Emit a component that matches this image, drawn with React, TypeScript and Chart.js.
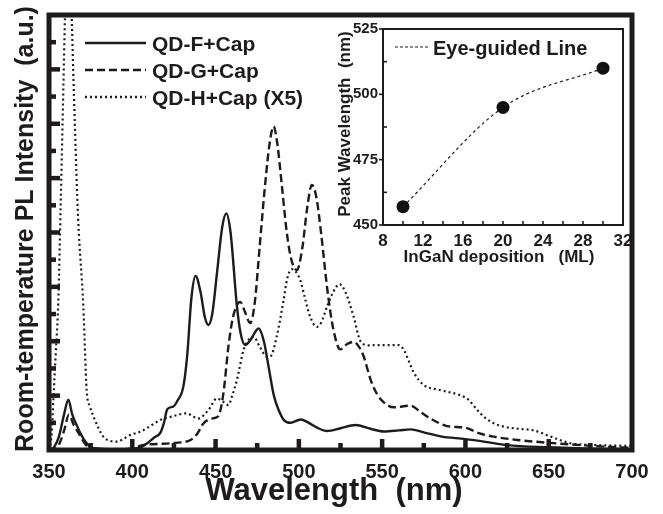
import React, { useEffect, useRef } from "react";
import { Chart, registerables } from "chart.js";

Chart.register(...registerables);

const FONT = "'Liberation Sans', Arial, Helvetica, sans-serif";
const INK = "#1d1b1c";

// ---------- main chart data ----------
const wlF = [350, 353, 356, 359, 361.6, 364, 366.6, 369, 372, 375, 380, 390, 400, 405, 409, 413, 417, 419, 421, 424.7, 427, 430.7, 433, 435.5, 438, 441, 443.5, 445.7, 448, 451, 454, 456.4, 459, 462.8, 465, 467.8, 471, 475.8, 479, 482, 485, 488, 491, 495, 501, 506, 511, 517, 525, 534, 543, 551, 560, 567, 575, 585, 600, 612, 625, 650, 675, 700];
const intF = [0.0, 0.1, 0.5, 1.3, 1.85, 1.3, 0.92, 0.6, 0.3, 0.1, 0.05, 0.02, 0.05, 0.1, 0.25, 0.45, 0.65, 1.0, 1.5, 1.6, 1.8, 2.35, 3.5, 5.6, 6.4, 5.8, 4.9, 4.6, 5.0, 6.6, 8.2, 8.7, 8.0, 5.3, 4.3, 3.86, 4.05, 4.47, 4.0, 3.0, 2.0, 1.45, 1.1, 1.0, 1.12, 1.0, 0.82, 0.7, 0.8, 0.92, 0.78, 0.68, 0.72, 0.76, 0.65, 0.5, 0.4, 0.3, 0.18, 0.1, 0.05, 0.03];

const wlG = [350, 355, 359, 362, 365, 368, 372, 378, 390, 400, 406, 415, 425, 435, 439, 442.7, 448.8, 451.7, 454.7, 457.7, 460.5, 464.8, 467.5, 470.8, 473.5, 476.5, 479.8, 482.5, 484.8, 487, 490, 492.8, 495.5, 498.8, 502, 505, 507.8, 510.5, 513.5, 516.9, 520.5, 524.9, 529, 533, 536, 539, 543, 547, 551, 557, 567, 573, 579, 589, 600, 608, 617, 631, 649, 669, 685, 700];
const intG = [0.0, 0.1, 0.7, 1.3, 0.9, 0.6, 0.2, 0.05, 0.02, 0.05, 0.18, 0.22, 0.26, 0.37, 0.6, 0.98, 1.17, 1.25, 2.08, 3.8, 4.9, 5.45, 5.1, 4.67, 5.4, 7.5, 9.8, 11.3, 11.9, 11.3, 9.6, 7.97, 7.0, 6.62, 7.4, 8.9, 9.75, 9.3, 7.9, 6.0, 4.5, 3.7, 3.9, 3.98, 3.8, 3.43, 2.6, 2.05, 1.75, 1.57, 1.63, 1.4, 1.16, 0.88, 0.82, 0.62, 0.49, 0.37, 0.27, 0.18, 0.12, 0.08];

const wlH = [350, 351.6, 352.6, 354, 355.6, 357, 358.5, 359.6, 361, 362.5, 363.6, 365.5, 367.5, 370.6, 372.6, 374.6, 377.6, 382.6, 386, 390.7, 394, 398.7, 404.7, 410, 416.7, 423.7, 432.7, 436, 439.7, 445.7, 450.8, 454, 457.7, 460, 462.8, 466.8, 469.8, 472.8, 476.5, 480.8, 483, 486.8, 490.8, 493, 495.8, 500.8, 504, 506.8, 510.8, 513.5, 516.9, 520.5, 524.5, 528, 532.9, 537, 542, 549, 560, 563, 569, 575, 585, 597, 602, 606, 611, 617, 623, 632, 641, 651, 663, 679, 700];
const intH = [0.0, 0.6, 1.84, 3.5, 5.5, 9.0, 13, 16, 19.5, 18.5, 16, 12, 8.5, 5.3, 2.2, 1.6, 1.1, 0.49, 0.35, 0.31, 0.38, 0.55, 0.67, 0.85, 1.1, 1.23, 1.35, 1.25, 1.16, 1.47, 1.9, 1.8, 1.65, 2.0, 2.57, 3.68, 4.05, 4.17, 3.8, 3.43, 3.45, 4.2, 5.5, 6.3, 6.65, 6.25, 5.5, 4.9, 4.53, 4.7, 5.27, 5.8, 6.1, 5.8, 4.9, 4.0, 3.85, 3.86, 3.86, 3.68, 2.85, 2.39, 2.2, 2.01, 1.84, 1.55, 1.23, 0.98, 0.86, 0.78, 0.72, 0.5, 0.25, 0.18, 0.15];

const seriesLabels = ["QD-F+Cap", "QD-G+Cap", "QD-H+Cap (X5)"];
const xTickValues = [350, 400, 450, 500, 550, 600, 650, 700];
const X_MIN = 350;
const X_MAX = 700;
const X_MINOR = 25;
const Y_MIN = 0;
const Y_MAX = 16;

// ---------- inset data ----------
const depositionML = [10, 20, 30];
const peakWavelength = [457, 495, 510];
const insetXTicks = [8, 12, 16, 20, 24, 28, 32];
const insetYTicks = [450, 475, 500, 525];
const insetLegend = "Eye-guided Line";

const pts = (xs: number[], ys: number[]) => xs.map((x, i) => ({ x, y: ys[i] }));

const mainDecor = {
  id: "mainDecor",
  afterDatasetsDraw(chart: any) {
    const { ctx, chartArea: a } = chart;
    const x = chart.scales.x;
    const y = chart.scales.y;
    ctx.save();
    ctx.strokeStyle = INK;
    ctx.fillStyle = INK;
    ctx.lineCap = "butt";
    ctx.setLineDash([]);
    // inward ticks
    ctx.lineWidth = 4.5;
    for (let v = X_MIN + X_MINOR; v < X_MAX; v += X_MINOR) {
      const px = x.getPixelForValue(v);
      const len = v % 50 === 0 ? 11 : 7;
      ctx.beginPath();
      ctx.moveTo(px, a.bottom);
      ctx.lineTo(px, a.bottom - len);
      ctx.stroke();
    }
    for (let v = Y_MIN + 1; v < Y_MAX; v++) {
      const py = y.getPixelForValue(v);
      const len = v % 2 === 0 ? 11 : 7;
      ctx.beginPath();
      ctx.moveTo(a.left, py);
      ctx.lineTo(a.left + len, py);
      ctx.stroke();
    }
    // frame
    ctx.lineWidth = 5;
    ctx.strokeRect(a.left, a.top, a.right - a.left, a.bottom - a.top);

    // axis titles
    ctx.font = `bold 31px ${FONT}`;
    ctx.textAlign = "center";
    ctx.textBaseline = "alphabetic";
    ctx.fillText("Wavelength  (nm)", 334, 500);
    ctx.save();
    ctx.translate(33, 229);
    ctx.rotate(-Math.PI / 2);
    ctx.font = `bold 25px ${FONT}`;
    ctx.fillText("Room-temperature PL Intensity  (a.u.)", 0, 0);
    ctx.restore();

    // legend
    const rows = [43, 70, 97];
    chart.data.datasets.forEach((ds: any, i: number) => {
      ctx.beginPath();
      ctx.lineWidth = 2.4;
      ctx.setLineDash(ds.borderDash || []);
      ctx.moveTo(85, rows[i]);
      ctx.lineTo(146, rows[i]);
      ctx.stroke();
      ctx.setLineDash([]);
      ctx.font = `bold 21px ${FONT}`;
      ctx.textAlign = "left";
      ctx.textBaseline = "middle";
      ctx.fillText(ds.label, 152, rows[i] + 2);
    });
    ctx.restore();
  },
};

const insetDecor = {
  id: "insetDecor",
  afterDatasetsDraw(chart: any) {
    const { ctx, chartArea: a } = chart;
    const x = chart.scales.x;
    const y = chart.scales.y;
    ctx.save();
    ctx.strokeStyle = INK;
    ctx.fillStyle = INK;
    ctx.setLineDash([]);
    ctx.lineWidth = 1.6;
    for (let v = 10; v < 32; v += 2) {
      const px = x.getPixelForValue(v);
      ctx.beginPath();
      ctx.moveTo(px, a.bottom);
      ctx.lineTo(px, a.bottom - 4);
      ctx.stroke();
    }
    for (let v = 450; v <= 525; v += 12.5) {
      const py = y.getPixelForValue(v);
      const major = v % 25 === 0;
      ctx.beginPath();
      if (major) {
        ctx.moveTo(a.left - 4, py);
        ctx.lineTo(a.left, py);
      } else {
        ctx.moveTo(a.left, py);
        ctx.lineTo(a.left + 4, py);
      }
      ctx.stroke();
    }
    ctx.lineWidth = 2;
    ctx.strokeRect(a.left, a.top, a.right - a.left, a.bottom - a.top);

    // titles
    ctx.textAlign = "center";
    ctx.textBaseline = "alphabetic";
    ctx.font = `bold 17px ${FONT}`;
    ctx.fillText("InGaN deposition   (ML)", 166, 244);
    ctx.save();
    ctx.translate(17, 106);
    ctx.rotate(-Math.PI / 2);
    ctx.font = `bold 17px ${FONT}`;
    ctx.fillText("Peak Wavelength  (nm)", 0, 0);
    ctx.restore();

    // legend
    ctx.beginPath();
    ctx.lineWidth = 1.2;
    ctx.setLineDash([3, 2]);
    ctx.moveTo(62, 29);
    ctx.lineTo(95, 29);
    ctx.stroke();
    ctx.setLineDash([]);
    ctx.font = `bold 20px ${FONT}`;
    ctx.textAlign = "left";
    ctx.textBaseline = "middle";
    ctx.fillText(insetLegend, 100, 31);
    ctx.restore();
  },
};

export default function App() {
  const mainRef = useRef<HTMLCanvasElement | null>(null);
  const insetRef = useRef<HTMLCanvasElement | null>(null);

  useEffect(() => {
    const lineBase = {
      borderColor: INK,
      borderWidth: 2.4,
      pointRadius: 0,
      fill: false,
      cubicInterpolationMode: "monotone" as const,
      borderCapStyle: "butt" as const,
    };
    const main = new Chart(mainRef.current!, {
      type: "line",
      data: {
        datasets: [
          { ...lineBase, label: seriesLabels[0], data: pts(wlF, intF), borderDash: [] },
          { ...lineBase, label: seriesLabels[1], data: pts(wlG, intG), borderDash: [8, 4] },
          { ...lineBase, label: seriesLabels[2], data: pts(wlH, intH), borderDash: [2, 3], borderWidth: 2.2 },
        ],
      },
      options: {
        animation: false,
        responsive: false,
        maintainAspectRatio: false,
        layout: { padding: { left: 0, top: 15, right: 31, bottom: 0 } },
        plugins: { legend: { display: false }, tooltip: { enabled: false } },
        scales: {
          x: {
            type: "linear",
            min: X_MIN,
            max: X_MAX,
            afterBuildTicks: (s: any) => {
              s.ticks = xTickValues.map((v) => ({ value: v }));
            },
            ticks: {
              color: INK,
              font: { family: FONT, size: 20, weight: "bold" },
              padding: 10,
              maxRotation: 0,
              autoSkip: false,
            },
            grid: { display: false, drawTicks: false },
            border: { display: false },
            afterFit: (s: any) => {
              s.height = 64;
              s.paddingLeft = 0;
              s.paddingRight = 0;
            },
          },
          y: {
            type: "linear",
            min: Y_MIN,
            max: Y_MAX,
            ticks: { display: false },
            grid: { display: false, drawTicks: false },
            border: { display: false },
            afterFit: (s: any) => {
              s.width = 49;
            },
          },
        },
      },
      plugins: [mainDecor],
    });

    const inset = new Chart(insetRef.current!, {
      type: "line",
      data: {
        datasets: [
          {
            label: insetLegend,
            data: pts(depositionML, peakWavelength),
            borderColor: INK,
            borderWidth: 1.2,
            borderDash: [3, 3],
            pointRadius: 0,
            cubicInterpolationMode: "monotone",
            fill: false,
          },
          {
            type: "scatter",
            label: "points",
            data: pts(depositionML, peakWavelength),
            backgroundColor: "#111",
            borderWidth: 0,
            pointRadius: 6.5,
            showLine: false,
          } as any,
        ],
      },
      options: {
        animation: false,
        responsive: false,
        maintainAspectRatio: false,
        layout: { padding: { left: 0, top: 11, right: 20, bottom: 0 } },
        plugins: { legend: { display: false }, tooltip: { enabled: false } },
        scales: {
          x: {
            type: "linear",
            min: 8,
            max: 32,
            afterBuildTicks: (s: any) => {
              s.ticks = insetXTicks.map((v) => ({ value: v }));
            },
            ticks: {
              color: INK,
              font: { family: FONT, size: 17, weight: "bold" },
              padding: 6,
              maxRotation: 0,
              autoSkip: false,
            },
            grid: { display: false, drawTicks: false },
            border: { display: false },
            afterFit: (s: any) => {
              s.height = 43;
              s.paddingLeft = 0;
              s.paddingRight = 0;
            },
          },
          y: {
            type: "linear",
            min: 450,
            max: 525,
            afterBuildTicks: (s: any) => {
              s.ticks = insetYTicks.map((v) => ({ value: v }));
            },
            ticks: {
              color: INK,
              font: { family: FONT, size: 15, weight: "bold" },
              padding: 5,
              autoSkip: false,
            },
            grid: { display: false, drawTicks: false },
            border: { display: false },
            afterFit: (s: any) => {
              s.width = 50;
              s.paddingTop = 0;
              s.paddingBottom = 0;
            },
          },
        },
      },
      plugins: [insetDecor],
    });

    return () => {
      main.destroy();
      inset.destroy();
    };
  }, []);

  return (
    <div style={{ position: "fixed", left: 0, top: 0, width: 663, height: 514, background: "#fff" }}>
      <canvas ref={mainRef} width={663} height={514} style={{ position: "absolute", left: 0, top: 0, zIndex: 0 }} />
      <canvas
        ref={insetRef}
        width={310}
        height={250}
        style={{ position: "absolute", left: 333, top: 18, zIndex: 1 }}
      />
    </div>
  );
}
